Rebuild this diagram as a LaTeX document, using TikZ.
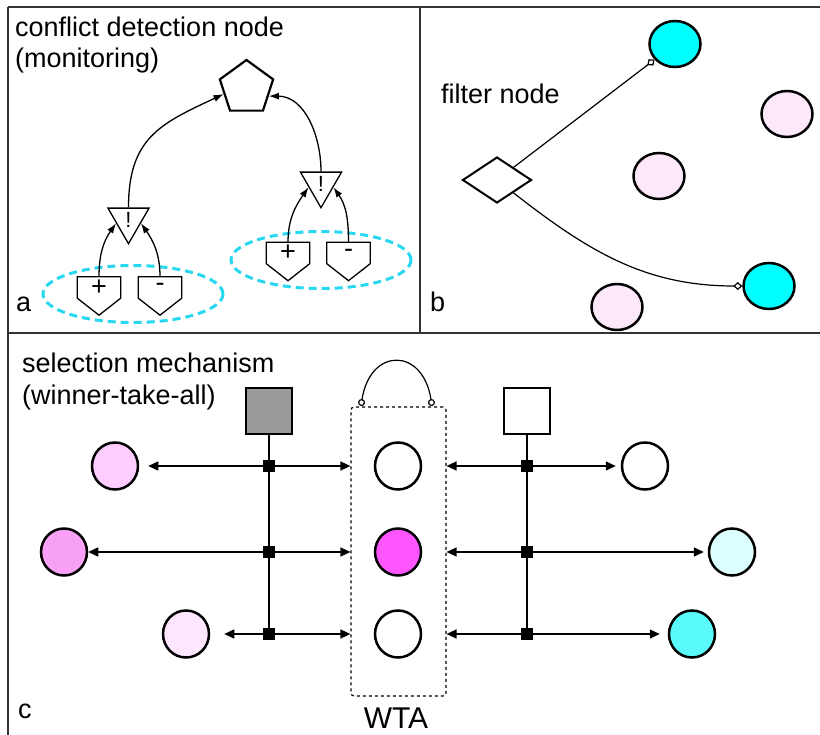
\documentclass[tikz,border=0pt]{standalone}
\usepackage{fontspec}
\setmainfont{Liberation Sans}
\usetikzlibrary{shapes.geometric,arrows.meta}
\definecolor{pinkpale}{RGB}{253,232,250}
\definecolor{pinklight}{RGB}{255,204,255}
\definecolor{pinkmid}{RGB}{247,160,245}
\definecolor{pinkfaint}{RGB}{255,230,255}
\definecolor{magwin}{RGB}{255,85,255}
\definecolor{cyanfull}{RGB}{0,255,255}
\definecolor{cyanpale}{RGB}{220,255,255}
\definecolor{cyanmid}{RGB}{90,250,250}
\definecolor{cyanring}{RGB}{40,215,240}
\definecolor{framegray}{RGB}{50,50,50}
\definecolor{boxgray}{RGB}{153,153,153}
\tikzset{
  lbl/.style={font=\fontsize{27}{32}\selectfont, inner sep=0pt, anchor=base west},
  frameline/.style={line width=2pt, framegray},
  plate/.style={rectangle, minimum width=43pt, minimum height=21pt, inner sep=0pt,
    font=\fontsize{27}{27}\selectfont},
  alarm/.style={regular polygon, regular polygon sides=3, shape border rotate=180,
    draw, line width=1.3pt, minimum size=47.4pt, inner sep=0pt, font=\fontsize{22}{22}\selectfont},
  ring/.style={ellipse, draw=cyanring, dash pattern=on 8pt off 5pt, line width=3pt,
    minimum width=180pt, minimum height=57pt},
  arrA/.style={line width=1.3pt, -{Latex[length=10pt,width=7pt]}},
  bunit/.style={ellipse, draw, line width=2.5pt, minimum width=51pt, minimum height=46pt, inner sep=0pt},
  cunit/.style={ellipse, draw, line width=2.5pt, minimum width=46pt, minimum height=47pt, inner sep=0pt},
  gate/.style={rectangle, draw, line width=2.5pt, minimum size=46pt, inner sep=0pt},
  jn/.style={rectangle, fill=black, minimum size=12pt, inner sep=0pt},
  arrC/.style={line width=1.5pt, {Triangle[length=10pt,width=9pt]}-{Triangle[length=10pt,width=9pt]}},
  arrB/.style={line width=1.2pt, -{Diamond[open,length=9pt,width=8pt]}}
}
\begin{document}
\begin{tikzpicture}[x=1pt,y=1pt]
  \useasboundingbox (0,0) rectangle (820,-735);
  % frame
  \draw[frameline] (8,-7) -- (820,-7);
  \draw[frameline] (8,-7) -- (8,-735);
  \draw[frameline] (8,-333) -- (820,-333);
  \draw[frameline] (420,-7) -- (420,-333);

  % a: conflict detection
  \node[lbl] (ta1) at (15,-37) {conflict detection node};
  \node[lbl] (ta2) at (15,-68) {(monitoring)};
  \node[lbl] (la) at (16,-312) {a};
  \node[ring] (ring1) at (133,-294) {};
  \node[ring] (ring2) at (321,-260) {};
  \node[regular polygon, regular polygon sides=5, draw, line width=2.2pt,
        minimum size=56pt, inner sep=0pt] (pent) at (246.5,-88) {};
  \node[alarm] (t1) at (128.5,-220) {\raisebox{-4pt}{!}};
  \node[alarm] (t2) at (321,-184) {\raisebox{-4pt}{!}};
  \node[plate] (p1) at (99,-287.5) {+};
  \node[plate] (p2) at (160,-287.5) {-};
  \node[plate] (p3) at (288,-253) {+};
  \node[plate] (p4) at (348.5,-253) {-};
  \foreach \p in {p1,p2,p3,p4}
    \draw[line width=1.3pt] (\p.north west) -- (\p.north east) -- (\p.south east)
      -- ([yshift=-17pt]\p.south) -- (\p.south west) -- cycle;
  \draw[arrA] (p1.north) to[out=90,in=-125] (t1.195);
  \draw[arrA] (p2.north) to[out=90,in=-55] (t1.-15);
  \draw[arrA] (p3.north) to[out=90,in=-125] (t2.195);
  \draw[arrA] (p4.north) to[out=90,in=-55] (t2.-15);
  \draw[arrA] (t1.90) to[out=90,in=-155,looseness=1.2] (pent.195);
  \draw[arrA] (t2.90) to[out=90,in=0] (pent.-20);

  % b: filter node
  \node[lbl] (tb) at (441,-104) {filter node};
  \node[lbl] (lb) at (430,-312) {b};
  \node[diamond, draw, line width=2pt, minimum width=69pt, minimum height=46pt,
        inner sep=0pt] (filt) at (497,-180) {};
  \node[bunit, fill=cyanfull] (cyt) at (675,-44) {};
  \node[bunit, fill=pinkpale] (pk1) at (787,-114) {};
  \node[bunit, fill=pinkpale] (pk2) at (659,-176) {};
  \node[bunit, fill=cyanfull] (cyb) at (769,-286) {};
  \node[bunit, fill=pinkpale] (pk3) at (617,-307) {};
  \draw[arrB] (filt) -- (cyt);
  \draw[arrB] (filt) to[out=-38,in=180] (cyb);

  % c: winner-take-all
  \node[lbl] (tc1) at (22,-373) {selection mechanism};
  \node[lbl] (tc2) at (22,-405) {(winner-take-all)};
  \node[lbl] (lc) at (18,-718) {c};
  \node[rectangle, draw, dash pattern=on 3pt off 3pt, line width=1.2pt, rounded corners=3pt,
        minimum width=95pt, minimum height=289pt] (wta) at (398.5,-551.5) {};
  \node[font=\fontsize{30}{36}\selectfont, inner sep=0pt, anchor=base] (twta) at (396,-728) {WTA};
  \coordinate (arcl) at (361,-406);
  \coordinate (arcr) at (432,-406);
  \draw[line width=1.2pt, {Circle[open,length=7pt]}-{Circle[open,length=7pt]}]
    (arcl) .. controls (370,-347) and (423,-347) .. (arcr);
  \node[cunit, fill=white] (w1) at (398,-466) {};
  \node[cunit, fill=magwin] (w2) at (398,-552) {};
  \node[cunit, fill=white] (w3) at (398,-634) {};
  \node[gate, fill=boxgray] (gsq) at (269,-411) {};
  \node[gate, fill=white] (wsq) at (527,-411) {};
  \node[cunit, fill=pinklight] (cl1) at (115,-466) {};
  \node[cunit, fill=pinkmid] (cl2) at (64,-552) {};
  \node[cunit, fill=pinkfaint] (cl3) at (186,-634) {};
  \node[cunit, fill=white] (cr1) at (645,-466) {};
  \node[cunit, fill=cyanpale] (cr2) at (732,-552) {};
  \node[cunit, fill=cyanmid] (cr3) at (692,-634) {};
  \draw[line width=1.5pt] (gsq) -- (269,-634);
  \draw[line width=1.5pt] (wsq) -- (527,-634);
  \draw[arrC, shorten <=9pt] (cl1) -- (cl1 -| wta.west);
  \draw[arrC] (cl2) -- (cl2 -| wta.west);
  \draw[arrC, shorten <=14pt] (cl3) -- (cl3 -| wta.west);
  \draw[arrC, shorten >=5pt] (cr1 -| wta.east) -- (cr1);
  \draw[arrC, shorten >=4pt] (cr2 -| wta.east) -- (cr2);
  \draw[arrC, shorten >=8pt] (cr3 -| wta.east) -- (cr3);
  \node[jn] (jl1) at (269,-466) {};
  \node[jn] (jl2) at (269,-552) {};
  \node[jn] (jl3) at (269,-634) {};
  \node[jn] (jr1) at (527,-466) {};
  \node[jn] (jr2) at (527,-552) {};
  \node[jn] (jr3) at (527,-634) {};
\end{tikzpicture}
\end{document}
